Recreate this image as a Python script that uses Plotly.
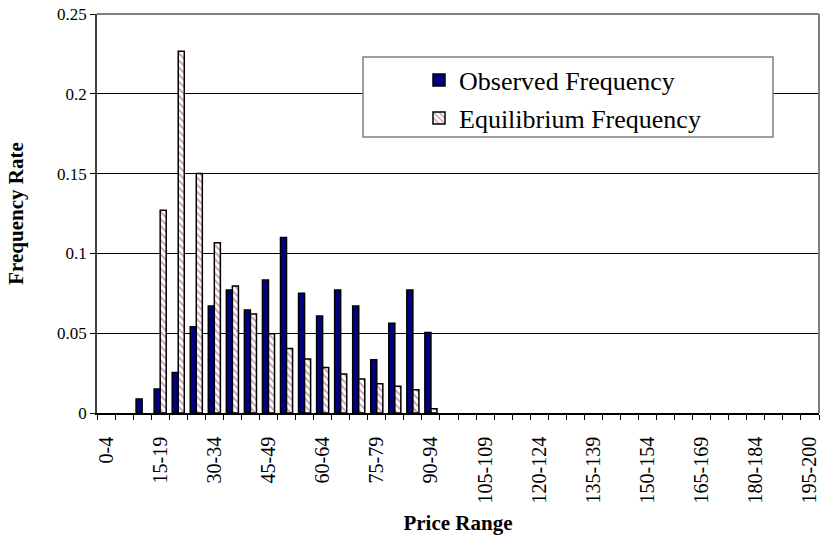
import plotly.graph_objects as go

categories = ["0-4", "5-9", "10-14", "15-19", "20-24", "25-29", "30-34", "35-39",
              "40-44", "45-49", "50-54", "55-59", "60-64", "65-69", "70-74", "75-79",
              "80-84", "85-89", "90-94", "95-99", "100-104", "105-109", "110-114",
              "115-119", "120-124", "125-129", "130-134", "135-139", "140-144",
              "145-149", "150-154", "155-159", "160-164", "165-169", "170-174",
              "175-179", "180-184", "185-189", "190-194", "195-200"]

observed = [None, None, 0.0088, 0.015, 0.0254, 0.054, 0.067, 0.077, 0.0646, 0.0833,
            0.110, 0.075, 0.0608, 0.077, 0.067, 0.0333, 0.0563, 0.077, 0.0504] + [None] * 21
equilibrium = [None, None, None, 0.127, 0.2267, 0.150, 0.1067, 0.0796, 0.062, 0.0496,
               0.0404, 0.0338, 0.0285, 0.0244, 0.0213, 0.0183, 0.0167, 0.0146, 0.0027] + [None] * 21

tick_text = [c if i % 3 == 0 else "" for i, c in enumerate(categories)]

SERIF = "Liberation Serif, Times New Roman, serif"
L, R, T, B = 97, 819, 14, 413
PW, PH = R - L, B - T


def px(x):
    return (x - L) / PW


def py(y):
    return (B - y) / PH


fig = go.Figure()
fig.add_trace(go.Bar(
    x=categories, y=observed, name="Observed Frequency", legend="legend",
    marker=dict(color="#000080", line=dict(color="black", width=1.5)),
))
fig.add_trace(go.Bar(
    x=categories, y=equilibrium, name="Equilibrium Frequency", legend="legend2",
    marker=dict(color="white", line=dict(color="black", width=1.5),
                pattern=dict(shape="\\", fgcolor="#993366", bgcolor="white",
                             size=5, solidity=0.35)),
))

legend_common = dict(xanchor="left", yanchor="middle",
                     bgcolor="rgba(0,0,0,0)", borderwidth=0,
                     font=dict(family=SERIF, size=26, color="black"))

fig.update_layout(
    width=821, height=540,
    margin=dict(l=L, r=821 - R, t=T, b=540 - B),
    paper_bgcolor="white", plot_bgcolor="white",
    barmode="group", bargap=0.33, bargroupgap=0,
    font=dict(family=SERIF, color="black", size=18),
    showlegend=True,
    legend=dict(x=px(419), y=py(80), **legend_common),
    legend2=dict(x=px(419), y=py(118), **legend_common),
    shapes=[
        dict(type="rect", xref="paper", yref="paper",
             x0=px(363), x1=px(773), y0=py(137), y1=py(57),
             line=dict(color="#808080", width=1.5), fillcolor="white", layer="above"),
        dict(type="line", xref="paper", yref="paper", x0=0, x1=1, y0=1, y1=1,
             line=dict(color="#808080", width=2), layer="above"),
        dict(type="line", xref="paper", yref="paper", x0=1, x1=1, y0=0, y1=1,
             line=dict(color="#808080", width=2), layer="above"),
    ],
)

fig.update_xaxes(
    type="category", categoryorder="array", categoryarray=categories,
    tickmode="array", tickvals=categories, ticktext=tick_text,
    tickson="boundaries", ticks="outside", ticklen=5, tickcolor="black",
    tickangle=-90, tickfont=dict(family=SERIF, size=20), ticklabelstandoff=14,
    showline=True, linecolor="black", linewidth=1.5, showgrid=False,
    automargin=False,
    title=dict(text="<b>Price Range</b>", font=dict(family=SERIF, size=21), standoff=13),
)
fig.update_yaxes(
    range=[0, 0.25], dtick=0.05, tick0=0,
    ticks="outside", ticklen=5, tickcolor="black",
    tickfont=dict(family=SERIF, size=17),
    showline=True, linecolor="#404040", linewidth=1.5,
    showgrid=True, gridcolor="black", gridwidth=1, zeroline=False,
    automargin=False,
    title=dict(text="<b>Frequency Rate</b>", font=dict(family=SERIF, size=21), standoff=28),
)

fig.write_html("out.html",
               config={"displayModeBar": False},
               post_script="document.body.style.margin='0';document.body.style.padding='0';")
